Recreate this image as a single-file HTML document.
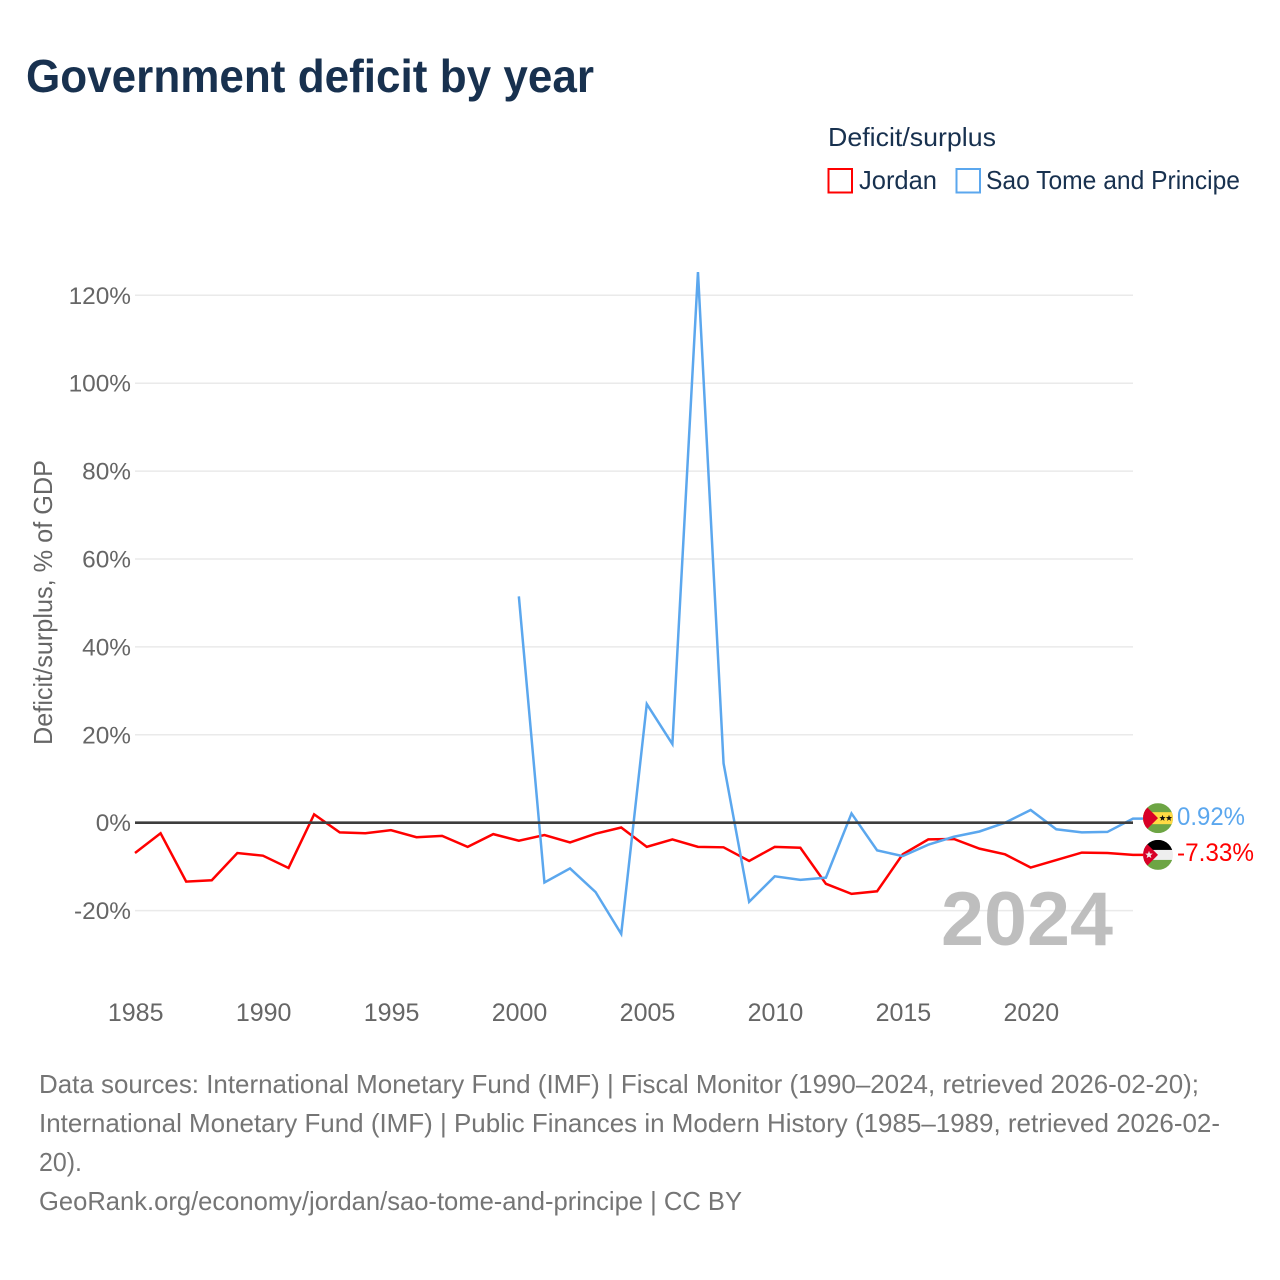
<!DOCTYPE html>
<html lang="en">
<head>
<meta charset="utf-8">
<title>Government deficit by year</title>
<style>
html,body{margin:0;padding:0;background:#fff;width:1280px;height:1280px;overflow:hidden}
svg{display:block;font-family:"Liberation Sans",sans-serif}
</style>
</head>
<body>
<svg id="chart" xmlns="http://www.w3.org/2000/svg" width="1280" height="1280" viewBox="0 0 1280 1280">
  <defs>
    <clipPath id="flag-clip-stp"><circle id="clip-stp" cx="1158" cy="818" r="15"/></clipPath>
    <clipPath id="flag-clip-jor"><circle id="clip-jor" cx="1158" cy="855" r="15"/></clipPath>
  </defs>
  <rect width="1280" height="1280" fill="#fff"/>
  <text x="26" y="92" font-size="46" font-weight="700" fill="#18314f" textLength="568" lengthAdjust="spacingAndGlyphs">Government deficit by year</text>

  <text x="828" y="146" font-size="26" fill="#18314f" textLength="168" lengthAdjust="spacingAndGlyphs">Deficit/surplus</text>
  <g>
    <rect x="828.5" y="169" width="23.5" height="23.5" fill="#fff" stroke="#ff0000" stroke-width="2"/>
    <text x="859" y="189" font-size="26" fill="#18314f" textLength="78" lengthAdjust="spacingAndGlyphs">Jordan</text>
  </g>
  <g>
    <rect x="956.5" y="169" width="23.5" height="23.5" fill="#fff" stroke="#5ba7ee" stroke-width="2"/>
    <text x="986" y="189" font-size="26" fill="#18314f" textLength="254" lengthAdjust="spacingAndGlyphs">Sao Tome and Principe</text>
  </g>

  <text transform="translate(52 745) rotate(-90)" x="0" y="0" font-size="26" fill="#666" textLength="285" lengthAdjust="spacingAndGlyphs">Deficit/surplus, % of GDP</text>

  <g id="grid"></g>
  <g id="yticks"></g>
  <g id="xticks"></g>

  <text x="1113" y="945" font-size="76" font-weight="700" fill="#bbb" fill-opacity="0.95" text-anchor="end" textLength="172" lengthAdjust="spacingAndGlyphs">2024</text>

  <g id="series"></g>
  <g id="zero"></g>
  <g id="flags"></g>

  <g font-size="26" fill="#757575">
    <text x="39" y="1093" textLength="1160" lengthAdjust="spacingAndGlyphs">Data sources: International Monetary Fund (IMF) | Fiscal Monitor (1990–2024, retrieved 2026-02-20);</text>
    <text x="39" y="1132" textLength="1181" lengthAdjust="spacingAndGlyphs">International Monetary Fund (IMF) | Public Finances in Modern History (1985–1989, retrieved 2026-02-</text>
    <text x="39" y="1171" textLength="43" lengthAdjust="spacingAndGlyphs">20).</text>
    <text x="39" y="1210" textLength="703" lengthAdjust="spacingAndGlyphs">GeoRank.org/economy/jordan/sao-tome-and-principe | CC BY</text>
  </g>
</svg>
<script>
const years = [1985,1986,1987,1988,1989,1990,1991,1992,1993,1994,1995,1996,1997,1998,1999,2000,2001,2002,2003,2004,2005,2006,2007,2008,2009,2010,2011,2012,2013,2014,2015,2016,2017,2018,2019,2020,2021,2022,2023,2024];
const jordan = [-6.9,-2.4,-13.4,-13.1,-6.9,-7.5,-10.3,1.9,-2.2,-2.4,-1.7,-3.3,-3.0,-5.5,-2.6,-4.1,-2.8,-4.5,-2.5,-1.1,-5.5,-3.8,-5.5,-5.6,-8.7,-5.5,-5.7,-13.9,-16.2,-15.6,-7.2,-3.8,-3.7,-5.9,-7.2,-10.2,-8.5,-6.8,-6.9,-7.33];
const saoTome = [null,null,null,null,null,null,null,null,null,null,null,null,null,null,null,51.5,-13.6,-10.4,-15.8,-25.3,27,17.9,125.3,13.5,-18.0,-12.2,-13.0,-12.5,2.1,-6.3,-7.6,-5,-3.2,-2.0,0,2.9,-1.5,-2.2,-2.1,0.92];
const yTicks = [-20,0,20,40,60,80,100,120];
const xTicks = [1985,1990,1995,2000,2005,2010,2015,2020];

const NS = 'http://www.w3.org/2000/svg';
const plotLeft = 135, plotRight = 1133, zeroY = 822.7, pxPerUnit = 4.395;
function xScale(year) { return plotLeft + (year - years[0]) * (plotRight - plotLeft) / (years[years.length - 1] - years[0]); }
function yScale(v) { return zeroY - v * pxPerUnit; }
function make(tag, attrs, parent, text) {
  const el = document.createElementNS(NS, tag);
  for (const k in attrs) el.setAttribute(k, attrs[k]);
  if (text !== undefined) el.textContent = text;
  parent.appendChild(el);
  return el;
}
function starPath(cx, cy, r) {
  let d = '';
  for (let i = 0; i < 10; i++) {
    const rad = i % 2 ? r * 0.42 : r;
    const a = -Math.PI / 2 + i * Math.PI / 5;
    d += (i ? 'L' : 'M') + (cx + rad * Math.cos(a)).toFixed(2) + ' ' + (cy + rad * Math.sin(a)).toFixed(2);
  }
  return d + 'Z';
}

const grid = document.getElementById('grid');
const yLabels = document.getElementById('yticks');
yTicks.forEach(function (t) {
  if (t !== 0) {
    const line = make('line', {x1: plotLeft, x2: plotRight, y1: yScale(t), y2: yScale(t), stroke: '#eaeaea', 'stroke-width': 1.5}, grid);
    
    
  }
  const label = make('text', {x: 131, y: yScale(t) + 8.5, 'text-anchor': 'end', 'font-size': 24.4, fill: '#666'}, yLabels, t + '%');
  
  
});

const xLabels = document.getElementById('xticks');
xTicks.forEach(function (t) {
  const label = make('text', {x: xScale(t) + 0.7, y: 1021, 'text-anchor': 'middle', 'font-size': 25, fill: '#666'}, xLabels, String(t));
  
  
});

function seriesPoints(values) {
  const pts = [];
  values.forEach(function (v, i) {
    if (v !== null) pts.push(xScale(years[i]).toFixed(2) + ',' + yScale(v).toFixed(2));
  });
  const last = values[values.length - 1];
  pts.push('1143,' + yScale(last).toFixed(2));
  return pts.join(' ');
}
const seriesGroup = document.getElementById('series');
const jordanLine = make('polyline', {points: seriesPoints(jordan), fill: 'none', stroke: '#ff0000', 'stroke-width': 2.5, 'stroke-linejoin': 'miter'}, seriesGroup);


const stpLine = make('polyline', {points: seriesPoints(saoTome), fill: 'none', stroke: '#5ba7ee', 'stroke-width': 2.5, 'stroke-linejoin': 'miter'}, seriesGroup);



const zeroLine = make('line', {x1: plotLeft, x2: plotRight, y1: yScale(0), y2: yScale(0), stroke: '#3d3d3d', 'stroke-width': 2.6}, document.getElementById('zero'));



const flags = document.getElementById('flags');
const stpValue = saoTome[saoTome.length - 1];
const jorValue = jordan[jordan.length - 1];
const stpY = yScale(stpValue) - 0.5;
const jorY = yScale(jorValue);
document.getElementById('clip-stp').setAttribute('cy', stpY);
document.getElementById('clip-jor').setAttribute('cy', jorY);

const stpFlag = make('g', {'clip-path': 'url(#flag-clip-stp)'}, flags);


make('rect', {x: 1143, y: stpY - 15, width: 30, height: 30, fill: '#6da544'}, stpFlag);
make('rect', {x: 1143, y: stpY - 6, width: 30, height: 12, fill: '#ffda44'}, stpFlag);
make('path', {d: 'M1143 ' + (stpY - 15) + 'L1158 ' + stpY + 'L1143 ' + (stpY + 15) + 'Z', fill: '#d80027'}, stpFlag);
make('path', {d: starPath(1162.5, stpY, 3.3), fill: '#111'}, stpFlag);
make('path', {d: starPath(1169, stpY, 3.3), fill: '#111'}, stpFlag);

const jorFlag = make('g', {'clip-path': 'url(#flag-clip-jor)'}, flags);


make('rect', {x: 1143, y: jorY - 15, width: 30, height: 30, fill: '#eeeeee'}, jorFlag);
make('rect', {x: 1143, y: jorY - 15, width: 30, height: 10, fill: '#000'}, jorFlag);
make('rect', {x: 1143, y: jorY + 5, width: 30, height: 10, fill: '#6da544'}, jorFlag);
make('path', {d: 'M1143 ' + (jorY - 15) + 'L1158 ' + jorY + 'L1143 ' + (jorY + 15) + 'Z', fill: '#d80027'}, jorFlag);
make('path', {d: starPath(1149, jorY, 4), fill: '#eee'}, jorFlag);

const stpLabel = make('text', {x: 1177, y: stpY + 7, 'font-size': 25, fill: '#5ba7ee', textLength: 68, lengthAdjust: 'spacingAndGlyphs'}, flags, stpValue.toFixed(2) + '%');


const jorLabel = make('text', {x: 1177, y: jorY + 6, 'font-size': 25, fill: '#ff0000', textLength: 77, lengthAdjust: 'spacingAndGlyphs'}, flags, jorValue.toFixed(2) + '%');


</script>
</body>
</html>
